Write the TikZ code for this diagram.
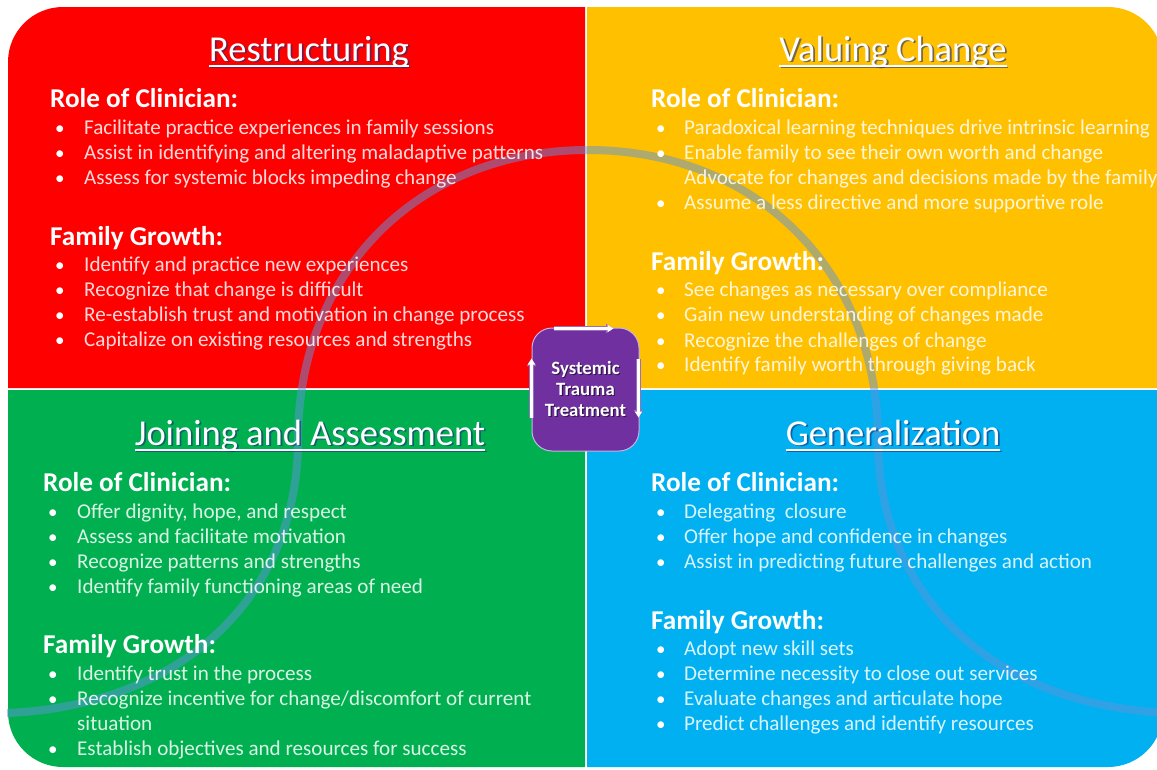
\documentclass[tikz,border=0pt]{standalone}
\usepackage{fontspec}
\setmainfont{Carlito}
\usetikzlibrary{calc,arrows.meta}
\definecolor{quadred}{HTML}{FF0000}
\definecolor{quadyellow}{HTML}{FFC000}
\definecolor{quadgreen}{HTML}{00B050}
\definecolor{quadblue}{HTML}{00B0F0}
\definecolor{hubpurple}{HTML}{7030A0}
\definecolor{hubedge}{RGB}{200,180,230}
\definecolor{wave}{RGB}{95,150,220}
\definecolor{titleshade}{RGB}{25,45,120}

% one bulleted block: name prefix, bullet x, text x, list of baseline/text
\newcommand\bulletrows[4]{%
  \foreach \yy/\txt [count=\k] in {#4}{%
    \node[dot]  (#1d\k) at (#2,\yy) {•};
    \node[body] (#1t\k) at (#3,\yy) {\txt};
  }}
% quadrant title with shadow and underline
\newcommand\quadtitle[4]{% name, x, baseline, text
  \node[titleshadow] (#1s) at ($(#2,#3)+(1.8,1.8)$) {#4};
  \node[titletext] (#1) at (#2,#3) {#4};
  \draw[titleshade, opacity=0.6, line width=1.8pt]
    ($(#1.base west)+(1.4,6.4)$) -- ($(#1.base east)+(1.4,6.4)$);
  \draw[white, line width=1.6pt]
    ($(#1.base west)+(0,4.8)$) -- ($(#1.base east)+(0,4.8)$);
}

\begin{document}
\begin{tikzpicture}[x=1pt,y=-1pt,
  body/.style={anchor=base west, inner sep=0pt, text=white, text opacity=0.85,
    font=\fontsize{21.1}{25}\selectfont},
  dot/.style={anchor=base west, inner sep=0pt, text=white,
    font=\fontsize{19}{23}\selectfont},
  head/.style={anchor=base west, inner sep=0pt, text=white,
    font=\bfseries\fontsize{27.2}{31}\selectfont},
  titletext/.style={anchor=base, inner sep=0pt, text=white,
    font=\fontsize{36.5}{42}\selectfont},
  titleshadow/.style={anchor=base, inner sep=0pt, text=titleshade, text opacity=0.6,
    font=\fontsize{36.5}{42}\selectfont},
  hub/.style={fill=hubpurple, draw=hubedge, line width=1pt, rounded corners=20pt,
    minimum width=107pt, minimum height=123pt},
  hubtext/.style={align=center, text=white, inner sep=0pt,
    font=\bfseries\fontsize{18.8}{21}\selectfont},
  hubshade/.style={hubtext, text=black, text opacity=0.55},
  cyclearrow/.style={white, line width=3pt, -{Triangle[length=6pt,width=7pt]},
    preaction={draw=hubpurple!70, line width=4.6pt, -{Triangle[length=7.5pt,width=9pt]}}}
]
\useasboundingbox (0,0) rectangle (1157,769);
\clip (0,0) rectangle (1157,769);
\fill[white] (0,0) rectangle (1157,769);

% four quadrants, outer corners rounded
\fill[quadred] (585,388) -- (8,388) [rounded corners=55pt] -- (8,7) [sharp corners] -- (585,7) -- cycle;
\fill[quadyellow] (587,388) -- (587,7) [rounded corners=55pt] -- (1163,7) [sharp corners] -- (1163,388) -- cycle;
\fill[quadgreen] (585,390) -- (8,390) [rounded corners=55pt] -- (8,767) [sharp corners] -- (585,767) -- cycle;
\fill[quadblue] (587,390) -- (587,767) [rounded corners=55pt] -- (1163,767) [sharp corners] -- (1163,390) -- cycle;

% translucent wave across the quadrants
\draw[wave, line width=8pt, draw opacity=0.5]
  (7,713) .. controls (190,705) and (298,590) .. (298,440)
  .. controls (298,270) and (420,150) .. (588,150)
  .. controls (756,150) and (878,270) .. (878,440)
  .. controls (878,590) and (986,705) .. (1169,713);

% Restructuring
\quadtitle{tr}{309}{61}{Restructuring}
\node[head] (trh1) at (50,107) {Role of Clinician:};
\bulletrows{tra}{55}{84}{134/{Facilitate practice experiences in family sessions},
  159/{Assist in identifying and altering maladaptive patterns},
  184/{Assess for systemic blocks impeding change}}
\node[head] (trh2) at (50,245) {Family Growth:};
\bulletrows{trb}{55}{84}{271/{Identify and practice new experiences},
  296/{Recognize that change is difficult},
  321/{Re-establish trust and motivation in change process},
  346/{Capitalize on existing resources and strengths}}

% Valuing Change
\quadtitle{tv}{893}{61}{Valuing Change}
\node[head] (tvh1) at (651,107) {Role of Clinician:};
\bulletrows{tva}{656}{684}{134/{Paradoxical learning techniques drive intrinsic learning},
  159/{Enable family to see their own worth and change}}
\node[body] (tvadv) at (684,184) {Advocate for changes and decisions made by the family};
\node[dot] (tvd4) at (656,209) {•};
\node[body] (tvt4) at (684,209) {Assume a less directive and more supportive role};
\node[head] (tvh2) at (651,270) {Family Growth:};
\bulletrows{tvb}{656}{684}{296/{See changes as necessary over compliance},
  321/{Gain new understanding of changes made},
  347/{Recognize the challenges of change},
  371/{Identify family worth through giving back}}

% Joining and Assessment
\quadtitle{tj}{310}{445}{Joining and Assessment}
\node[head] (tjh1) at (43,491) {Role of Clinician:};
\bulletrows{tja}{48}{77}{518/{Offer dignity, hope, and respect},
  543/{Assess and facilitate motivation},
  568/{Recognize patterns and strengths},
  593/{Identify family functioning areas of need}}
\node[head] (tjh2) at (43,653) {Family Growth:};
\bulletrows{tjb}{48}{77}{680/{Identify trust in the process},
  705/{Recognize incentive for change/discomfort of current}}
\node[body] (tjsit) at (77,730) {situation};
\node[dot] (tjd4) at (48,755) {•};
\node[body] (tjt4) at (77,755) {Establish objectives and resources for success};

% Generalization
\quadtitle{tg}{893}{445}{Generalization}
\node[head] (tgh1) at (651,491) {Role of Clinician:};
\bulletrows{tga}{656}{684}{518/{Delegating\ \ closure},
  543/{Offer hope and confidence in changes},
  568/{Assist in predicting future challenges and action}}
\node[head] (tgh2) at (651,629) {Family Growth:};
\bulletrows{tgb}{656}{684}{655/{Adopt new skill sets},
  680/{Determine necessity to close out services},
  705/{Evaluate changes and articulate hope},
  730/{Predict challenges and identify resources}}

% central hub with its cycle arrows
\node[hub] (hub) at (585.5,389.5) {};
\node[hubshade] (hubs) at ($(hub.center)+(1.2,0.2)$) {Systemic\\Trauma\\Treatment};
\node[hubtext] (hubt) at ($(hub.center)+(0,-1)$) {Systemic\\Trauma\\Treatment};
\coordinate (ta) at ($(hub.north west)+(22,1)$);
\coordinate (tb) at ($(hub.north west)+(82,1)$);
\coordinate (ra) at ($(hub.north east)+(-1,31)$);
\coordinate (rb) at ($(hub.north east)+(-1,90)$);
\coordinate (la) at ($(hub.north west)+(0,90)$);
\coordinate (lb) at ($(hub.north west)+(0,31)$);
\draw[cyclearrow] (ta) -- (tb);
\draw[cyclearrow] (ra) -- (rb);
\draw[cyclearrow] (la) -- (lb);
\end{tikzpicture}
\end{document}
